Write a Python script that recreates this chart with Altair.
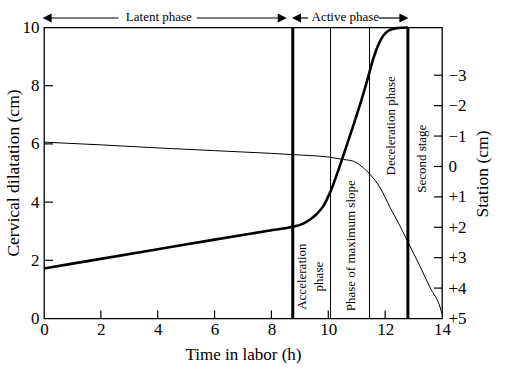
import altair as alt
import pandas as pd

# ---- data ----
hours = [0, 2, 4, 6, 8, 8.75, 9.1, 9.36, 9.6, 9.83, 10.08, 10.48, 10.95,
         11.15, 11.36, 11.59, 11.83, 12.1, 12.4, 12.8]
dilatation = [1.72, 2.05, 2.38, 2.71, 3.03, 3.15, 3.25, 3.4, 3.6, 3.87, 4.37,
              5.46, 6.84, 7.45, 8.15, 8.95, 9.55, 9.88, 9.98, 10.0]

station_hours = [0, 2, 4, 6, 8, 8.75, 10.08, 10.54, 10.89, 11.24, 11.47, 11.83,
                 12.18, 12.53, 12.82, 13.23, 13.59, 13.94, 14]
station = [-0.8, -0.71, -0.61, -0.52, -0.43, -0.39, -0.3, -0.23, -0.17, 0.05,
           0.26, 0.71, 1.36, 1.97, 2.52, 3.29, 4.0, 4.65, 4.85]

boundary_hours = [8.75, 10.08, 11.45, 12.8]
boundary_kind = ["major", "minor", "minor", "major"]

x_ticks = [0, 2, 4, 6, 8, 10, 12, 14]
dil_ticks = [0, 2, 4, 6, 8, 10]
station_ticks = [-3, -2, -1, 0, 1, 2, 3, 4, 5]

phase_labels = ["Acceleration", "phase", "Phase of maximum slope",
                "Deceleration phase", "Second stage"]
phase_label_x = [9.07, 9.66, 10.79, 12.22, 13.31]
phase_label_y = [1.44, 1.44, 2.5, 6.62, 5.49]

top_labels = ["Latent phase", "Active phase"]
top_label_x = [4.04, 10.6]
top_seg_start = [0.11, 5.37, 8.88, 11.77]
top_seg_end = [2.62, 8.38, 9.29, 12.66]
arrow_left_x = [0.11, 8.88]
arrow_right_x = [8.38, 12.66]

# ---- layout ----
W, H = 398, 291
FONT = "Liberation Serif"

df_dil = pd.DataFrame({"t": hours, "d": dilatation})
df_sta = pd.DataFrame({"t": station_hours, "s": station})
df_bound = pd.DataFrame({"t": boundary_hours, "kind": boundary_kind,
                         "w": [3 if k == "major" else 1 for k in boundary_kind]})
df_phase = pd.DataFrame({"t": phase_label_x, "d": phase_label_y, "label": phase_labels})
df_top = pd.DataFrame({"t": top_label_x, "label": top_labels})
df_seg = pd.DataFrame({"t": top_seg_start, "t2": top_seg_end})
df_al = pd.DataFrame({"t": arrow_left_x})
df_ar = pd.DataFrame({"t": arrow_right_x})
df_xt = pd.DataFrame({"v": x_ticks[1:-1]})
df_dt = pd.DataFrame({"v": dil_ticks[1:-1]})
df_st = pd.DataFrame({"v": station_ticks[:-1]})

x_scale = alt.Scale(domain=[0, 14], nice=False, zero=False)
dil_scale = alt.Scale(domain=[0, 10], nice=False)
sta_scale = alt.Scale(domain=[5, -4.57], nice=False, zero=False)

x_axis = alt.Axis(values=x_ticks, title="Time in labor (h)", orient="bottom",
                  domain=False, ticks=False, grid=False, labelFlush=False,
                  labelFont=FONT, labelFontSize=17, labelColor="black",
                  labelPadding=3, titleFont=FONT, titleFontSize=17,
                  titleFontWeight="normal", titleColor="black",
                  titleX=W / 2, titleY=41, titleAlign="center",
                  titleBaseline="alphabetic")

left_axis = alt.Axis(values=dil_ticks, title="Cervical dilatation (cm)",
                     orient="left", domain=False, ticks=False, grid=False,
                     labelFlush=False, labelFont=FONT, labelFontSize=17,
                     labelColor="black", labelPadding=5, labelBaseline="middle",
                     titleFont=FONT, titleFontSize=17.5, titleFontWeight="normal",
                     titleColor="black", titleAngle=270, titleX=-25.5, titleY=145,
                     titleAlign="center", titleBaseline="alphabetic")

right_axis = alt.Axis(values=station_ticks, title="Station (cm)", orient="right",
                      domain=False, ticks=False, grid=False, labelFlush=False,
                      labelFont=FONT, labelFontSize=17, labelColor="black",
                      labelPadding=6, labelAlign="left", labelBaseline="middle",
                      labelExpr="datum.value > 0 ? '+' + datum.value : (datum.value < 0 ? '\u2212' + abs(datum.value) : '0')",
                      titleFont=FONT, titleFontSize=17.5, titleFontWeight="normal",
                      titleColor="black", titleAngle=270, titleX=45, titleY=146,
                      titleAlign="center", titleBaseline="alphabetic")


def X(field="t"):
    return alt.X(f"{field}:Q", scale=x_scale, axis=x_axis)


bounds = alt.Chart(df_bound).mark_rule(color="black").encode(
    x=X(),
    strokeWidth=alt.StrokeWidth("w:Q", scale=None),
)

dil_line = alt.Chart(df_dil).mark_line(color="black", strokeWidth=2.6,
                                       interpolate="monotone").encode(
    x=X(),
    y=alt.Y("d:Q", scale=dil_scale, axis=left_axis),
)

sta_line = alt.Chart(df_sta).mark_line(color="black", strokeWidth=1,
                                       interpolate="monotone").encode(
    x=X(),
    y=alt.Y("s:Q", scale=sta_scale, axis=right_axis),
)

left_ticks = alt.Chart(df_dt).mark_rule(color="black", strokeWidth=1.2).encode(
    x=alt.value(0), x2=alt.value(9),
    y=alt.Y("v:Q", scale=dil_scale, axis=None),
)
bottom_ticks = alt.Chart(df_xt).mark_rule(color="black", strokeWidth=1.2).encode(
    x=X("v"),
    y=alt.value(H), y2=alt.value(H - 8),
)
right_ticks = alt.Chart(df_st).mark_rule(color="black", strokeWidth=1.2).encode(
    x=alt.value(W - 8), x2=alt.value(W),
    y=alt.Y("v:Q", scale=sta_scale, axis=None),
)

phase_text = alt.Chart(df_phase).mark_text(
    angle=270, font=FONT, fontSize=13, color="black",
    align="center", baseline="middle").encode(
    x=X(),
    y=alt.Y("d:Q", scale=dil_scale, axis=None),
    text="label:N",
)

top_text = alt.Chart(df_top).mark_text(
    font=FONT, fontSize=13, color="black", align="center",
    baseline="alphabetic").encode(
    x=X(),
    y=alt.value(-7),
    text="label:N",
)
top_segs = alt.Chart(df_seg).mark_rule(color="black", strokeWidth=1.2).encode(
    x=X(), x2="t2:Q",
    y=alt.value(-9.5),
)
arrows_l = alt.Chart(df_al).mark_point(
    shape="M -1 0 L 1 -1 L 1 1 Z", size=81, filled=True, color="black",
    opacity=1, strokeWidth=0).encode(x=X(), y=alt.value(-9.5))
arrows_r = alt.Chart(df_ar).mark_point(
    shape="M 1 0 L -1 -1 L -1 1 Z", size=81, filled=True, color="black",
    opacity=1, strokeWidth=0).encode(x=X(), y=alt.value(-9.5))

chart = alt.layer(
    bounds, dil_line, sta_line, left_ticks, bottom_ticks, right_ticks,
    phase_text, top_text, top_segs, arrows_l, arrows_r,
).resolve_scale(y="independent").properties(
    width=W, height=H,
    autosize=alt.AutoSizeParams(type="none"),
    padding={"left": 44, "top": 27.5, "right": 73, "bottom": 54.5},
    background="white",
).configure_view(stroke="black", strokeWidth=1.3)

chart.save("out.html", embed_options={"renderer": "svg", "actions": False})
